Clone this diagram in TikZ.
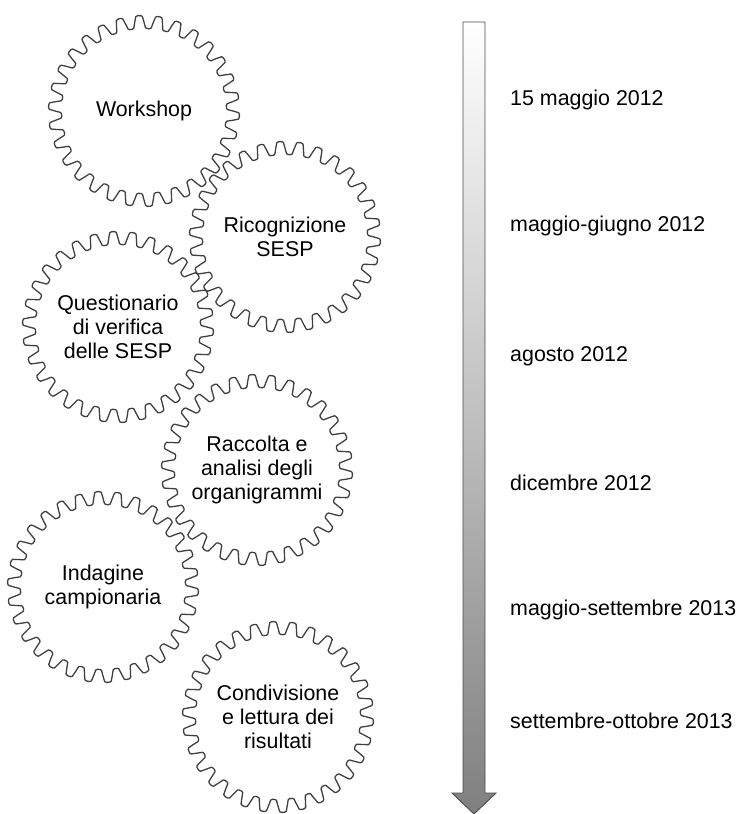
\documentclass[tikz,border=0pt]{standalone}
\usepackage{fontspec}
\setmainfont{Liberation Sans}
\tikzset{
  ingranaggio/.style={draw=black!75, line width=1.3pt, line join=round},
  fase/.style={align=center, font=\fontsize{21.4}{24}\selectfont},
  data/.style={anchor=base west, inner sep=0pt, font=\fontsize{21.4}{24}\selectfont},
}
\begin{document}
\begin{tikzpicture}[x=1pt,y=-1pt]
\useasboundingbox (0,0) rectangle (737,814);

\def\rmed{89}
\def\dente{6.5}

\shade[top color=white, bottom color=black!50, draw=black!70, line width=0.9pt]
  (463,22) -- (485,22) -- (485,793) -- (496,793) -- (474,814) -- (452,793) -- (463,793) -- cycle;

\foreach \nome/\cx/\cy/\testo in {ws/144/111/{Workshop}, ric/285/237/{Ricognizione\\SESP}, que/118/327/{Questionario\\di verifica\\delle SESP}, rac/257/470/{Raccolta e\\analisi degli\\organigrammi}, ind/103/587/{Indagine\\campionaria}, con/278/717/{Condivisione\\e lettura dei\\risultati}}
{
    \draw[ingranaggio, shift={(\cx,\cy)}] plot[domain=0:359, samples=360] (\x:{\rmed+\dente*tanh(2.5*sin(30*\x))/tanh(2.5)}) -- cycle;
    \node[fase] (\nome) at (\cx,\cy) {\testo};
}

\foreach \n/\yb/\testo in {1/105/15 maggio 2012, 2/231/maggio-giugno 2012, 3/361/agosto 2012, 4/490/dicembre 2012, 5/615/maggio-settembre 2013, 6/728/settembre-ottobre 2013}
    \node[data] (d\n) at (510,\yb) {\testo};

\end{tikzpicture}
\end{document}
